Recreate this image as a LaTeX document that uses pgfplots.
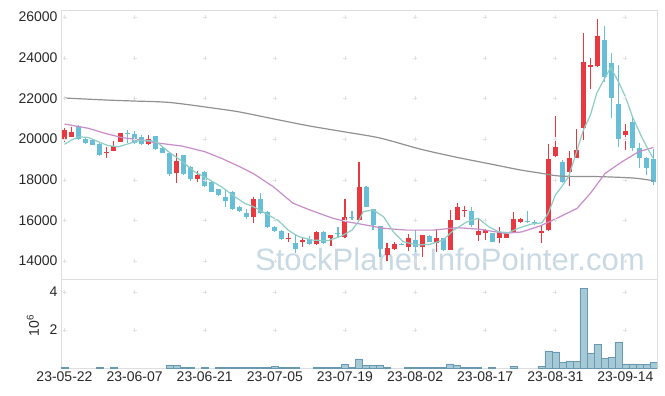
\documentclass[border=0pt]{standalone}
\usepackage{fontspec}
\setmainfont{Liberation Sans}
\usepackage{pgfplots}
\usepackage{pgfplotstable}
\pgfplotsset{compat=1.18}

\definecolor{upc}{RGB}{232,56,64}
\definecolor{dnc}{RGB}{104,190,214}
\definecolor{maf}{RGB}{140,205,196}
\definecolor{mam}{RGB}{200,140,200}
\definecolor{mas}{RGB}{145,145,145}
\definecolor{volf}{RGB}{155,196,210}
\definecolor{vold}{RGB}{105,152,178}
\definecolor{framec}{RGB}{222,222,222}
\definecolor{wm}{RGB}{200,217,228}
\definecolor{tickc}{RGB}{40,40,40}
\definecolor{gridc}{RGB}{225,225,225}

\pgfplotstableread{
i o h l c
0 19990 20550 19840 20450
1 20110 20580 20100 20350
6 19290 19630 19060 19340
7 19430 19900 19400 19660
8 19870 20310 19850 20280
12 19740 20210 19720 20000
16 18310 19300 17830 18920
19 18030 18410 17870 18230
27 16180 17160 15880 17050
32 15080 15380 14920 15130
34 14950 15200 14700 15030
36 14820 15500 14800 15440
38 15120 15300 14740 15280
40 15170 17030 15130 16150
42 16020 18850 16000 17660
46 14300 14900 14000 14650
47 14590 14950 14560 14840
49 14700 15330 14470 15120
51 14700 15300 14210 15280
53 14870 15560 14460 15120
55 14540 16510 14520 16020
56 16020 16840 16000 16670
57 16460 16730 16160 16510
59 15280 16100 15000 15480
60 15390 15560 15030 15520
62 15120 15670 14880 15390
63 15150 15350 15130 15310
64 15440 16410 15400 16050
65 15910 16100 15890 16060
68 15400 15700 14900 15500
69 15530 19750 15500 19000
70 19170 21130 19100 19620
72 18390 19390 17670 19050
73 19060 20490 19050 19460
74 20560 25210 19950 23800
75 23560 24000 22460 23640
76 23590 25930 23560 25070
80 20200 20720 19460 20390
}\up

\pgfplotstableread{
i o h l c
2 20640 20680 19950 19990
3 20000 20050 19740 19820
4 19950 19990 19700 19720
5 19770 19800 19180 19230
9 20280 20440 19820 20240
10 20250 20410 19760 19790
11 20080 20200 19720 19740
13 20130 20150 19480 19490
14 19580 19600 19310 19330
15 19300 19320 18200 18280
17 19210 19230 18250 18280
18 18640 18660 17960 18030
20 18390 18420 17650 17690
21 17900 17930 17380 17410
22 17530 17560 17210 17250
23 17160 17490 16640 16950
24 17390 17430 16500 16540
25 16670 16700 16430 16470
26 16350 16540 16050 16180
28 17030 17330 16320 16350
29 16430 16460 15630 15660
30 15690 15720 15450 15480
31 15480 15510 15040 15070
33 14900 15330 14370 14590
35 15070 15250 14800 14820
37 15440 15470 14840 14870
39 15390 15660 15200 15330
41 16170 16480 16030 16110
43 17660 17700 16650 16680
44 16540 16560 15520 15770
45 15720 15740 14180 14570
48 14860 14900 14780 14810
50 15030 15520 14440 14700
52 15230 15270 14930 14950
54 15120 15150 14510 14540
58 16470 16650 15660 15770
61 15360 15380 14930 14950
66 15990 16440 15870 15910
67 15920 16020 15750 15860
71 18880 18950 17850 17900
77 24870 25560 22830 23070
78 23750 24220 21020 22030
79 21720 23640 19630 19990
81 20820 21100 19400 19570
82 19570 19790 18600 19050
83 19080 19100 18220 18560
84 19000 19490 17750 17900
}\down

\pgfplotstableread{
i v
0 0.05
5 0.04
7 0.04
15 0.17
16 0.12
17 0.05
18 0.05
20 0.04
22 0.04
23 0.04
24 0.04
25 0.04
26 0.04
27 0.04
28 0.04
29 0.04
30 0.09
31 0.05
32 0.05
33 0.05
36 0.04
37 0.04
38 0.04
39 0.04
40 0.22
41 0.05
42 0.48
43 0.14
44 0.14
45 0.17
46 0.05
49 0.04
50 0.04
51 0.04
52 0.04
53 0.04
54 0.04
55 0.22
56 0.12
57 0.05
58 0.05
59 0.05
61 0.04
64 0.10
68 0.10
69 0.90
70 0.85
71 0.30
72 0.38
73 0.33
74 4.20
75 0.75
76 1.25
77 0.50
78 0.55
79 1.35
80 0.22
81 0.22
82 0.20
83 0.20
84 0.30
}\vol

\pgfplotsset{
  candleaxis/.style={
    scale only axis, width=596pt,
    xmin=-0.5, xmax=84.5,
    xtick={0,10,...,80},
    major tick length=0pt,
    axis line style={draw=framec, line width=0.8pt},
    tick label style={font=\fontsize{14}{16}\selectfont, text=tickc},
    /pgf/number format/assume math mode=true,
    scaled y ticks=false,
    yticklabel style={/pgf/number format/1000 sep={}},
  },
  wick/.style={draw=none, mark=none, forget plot,
    error bars/.cd, y dir=plus, y explicit, error mark=none,
    error bar style={draw=#1, line width=1.1pt}},
  body/.style={draw=none, mark=none, forget plot,
    error bars/.cd, y dir=plus, y explicit, error mark=none,
    error bar style={draw=#1, line width=5pt}},
}

\begin{document}
\begin{tikzpicture}
\path[use as bounding box] (0,0) rectangle (665pt,-396pt);
\node[anchor=base west, font=\fontsize{31}{31}\selectfont, text=wm, inner sep=0pt] at (255pt,-270pt) {StockPlanet.InfoPointer.com};

\begin{axis}[candleaxis,
  at={(61pt,-10pt)}, anchor=north west, height=269pt,
  ymin=13115, ymax=26350,
  xticklabels={},
  ytick={14000,16000,...,26000},
]
\pgfplotsinvokeforeach{0,10,...,80}{
  \addplot[only marks, mark=+, mark size=2pt, color=gridc, forget plot]
    coordinates {(#1,14000) (#1,16000) (#1,18000) (#1,20000) (#1,22000) (#1,24000) (#1,26000)};
}
\addplot[wick=upc] table[x=i, y=l, y error expr=\thisrow{h}-\thisrow{l}] {\up};
\addplot[body=upc] table[x=i, y=o, y error expr=\thisrow{c}-\thisrow{o}] {\up};
\addplot[wick=dnc] table[x=i, y=l, y error expr=\thisrow{h}-\thisrow{l}] {\down};
\addplot[body=dnc] table[x=i, y=c, y error expr=\thisrow{o}-\thisrow{c}] {\down};

% long moving average
\addplot[mas, line width=1.2pt, smooth, mark=none] coordinates {
(0,22020) (6,21920) (10,21870) (15,21800) (21.5,21510) (25,21330) (30,20980)
(35,20640) (40,20350) (45,20050) (50.7,19510) (55.7,19120) (60.8,18770)
(65,18480) (67.8,18330) (70.7,18180) (76.4,18150) (81.2,18080) (84,17950)};
% 20-day moving average
\addplot[mam, line width=1.2pt, mark=none] coordinates {
(0,20740) (3.4,20530) (5.8,20280) (8.2,20070) (11,19950) (12.9,19820) (16.7,19660)
(20,19380) (22.4,19050) (24.8,18670) (26.9,18310) (29.8,17650) (32.6,16840)
(35,16510) (38.3,16100) (40.3,15930) (42.2,15820) (45.5,15610) (48.8,15520)
(52.6,15520) (56,15640) (59.3,15560) (62.8,15360) (65.2,15430) (67.8,15720)
(70.2,16100) (73.1,16590) (75,17330) (77.1,18310) (79.5,18880) (81.9,19380) (84,19590)};
% 5-day moving average
\addplot[maf, line width=1.2pt, mark=none] coordinates {
(0,19740) (1,19950) (2,20110) (3.4,20080) (4.8,19870) (6.2,19680) (7.7,19620)
(9.6,19820) (11,19950) (12.4,19920) (13.4,19790) (14.8,19390) (16.7,18920)
(18.6,18380) (20.5,18030) (22.4,17650) (24.3,17160) (25.7,16840) (27.2,16630)
(28.8,16310) (30.5,15990) (31.9,15520) (33.4,15200) (35.3,15030) (37.6,15000)
(39.5,15230) (41,15520) (41.9,15930) (42.6,16430) (44,16510) (45.5,16180)
(46.9,15440) (48.3,14950) (50.2,14790) (52.1,14820) (54,15030) (55.5,15520)
(57.4,15930) (59,16100) (60.5,15690) (61.9,15440) (63.3,15390) (64.7,15610)
(66.6,15820) (68.1,15880) (69,16350) (70,17250) (70.9,17650) (71.9,18150)
(72.8,19130) (74,20440) (75,21180) (75.9,22250) (76.9,22900) (77.9,23520)
(79,22820) (80,22080) (81,21100) (82.4,20040) (83.8,19130) (84,19050)};
\end{axis}

\begin{axis}[candleaxis,
  at={(61pt,-279pt)}, anchor=north west, height=89pt,
  ymin=0, ymax=4.68,
  ytick={2,4},
  xticklabels={23-05-22,23-06-07,23-06-21,23-07-05,23-07-19,23-08-02,23-08-17,23-08-31,23-09-14},
  ylabel={10\textsuperscript{6}},
  ylabel style={font=\fontsize{14}{16}\selectfont, text=tickc, at={(axis description cs:-0.047,0.48)}, anchor=center},
]
\pgfplotsinvokeforeach{0,10,...,80}{
  \addplot[only marks, mark=+, mark size=2pt, color=gridc, forget plot]
    coordinates {(#1,2) (#1,4)};
}
\addplot[ybar, bar width=1, fill=volf, draw=vold, line width=0.5pt, fill opacity=0.9] table[x=i, y=v] {\vol};
\end{axis}
\end{tikzpicture}
\end{document}
